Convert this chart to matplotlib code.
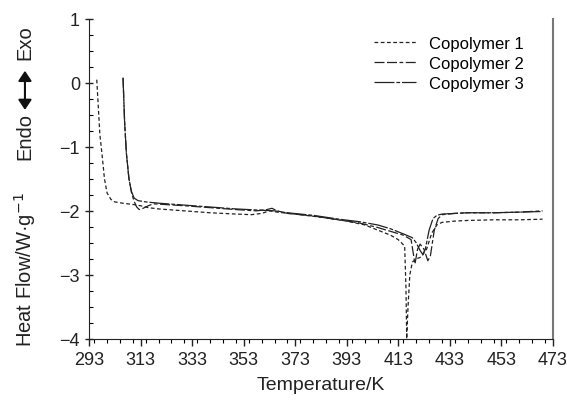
import matplotlib
matplotlib.use("Agg")
import matplotlib.pyplot as plt
from matplotlib.ticker import MultipleLocator

plt.rcParams['font.family'] = ['Liberation Sans', 'DejaVu Sans']

# 数据：温度(K) 和 热流(W/g)
T1 = [296.0, 296.5, 297.2, 298.0, 299.0, 300.0, 301.5, 303, 306, 310, 313, 316, 320, 330, 340,
      350, 356, 360, 363, 366, 373, 383, 393, 400, 405, 410, 413, 415.5, 416.0, 416.3, 416.8,
      417.5, 418.5, 420, 422, 424, 426, 428, 430, 435, 440, 450, 460, 469]
y1 = [0.05, -0.3, -0.8, -1.1, -1.5, -1.72, -1.82, -1.86, -1.88, -1.9, -1.92, -1.95, -1.97, -2.0,
      -2.03, -2.05, -2.06, -2.04, -2.0, -2.02, -2.05, -2.1, -2.16, -2.22, -2.3, -2.38, -2.45,
      -2.55, -3.2, -4.0, -3.5, -3.0, -2.8, -2.75, -2.72, -2.6, -2.35, -2.22, -2.18, -2.16, -2.15,
      -2.14, -2.14, -2.13]

T2 = [306.2, 306.8, 307.5, 308.5, 309.5, 310.5, 311.5, 312.5, 314, 316, 318, 322, 330, 340, 350,
      358, 362, 364, 366, 370, 380, 390, 398, 405, 410, 415, 418, 419.5, 420.5, 421.5, 423, 424.5,
      425.5, 427, 428.5, 430, 435, 440, 450, 460, 469]
y2 = [0.08, -0.6, -1.1, -1.5, -1.72, -1.85, -1.94, -1.98, -1.96, -1.92, -1.89, -1.9, -1.92, -1.95,
      -1.98, -2.0, -1.98, -1.96, -2.0, -2.04, -2.08, -2.14, -2.19, -2.26, -2.32, -2.38, -2.45,
      -2.83, -2.6, -2.52, -2.6, -2.78, -2.7, -2.3, -2.12, -2.06, -2.04, -2.03, -2.03, -2.02, -2.0]

T3 = [306.2, 306.8, 307.5, 308.5, 309.5, 310.5, 312, 315, 320, 330, 340, 350, 360, 365, 370, 380,
      390, 398, 405, 410, 415, 418.5, 420, 421.5, 422.5, 423.5, 425, 426.5, 428, 430, 435, 440,
      450, 460, 469]
y3 = [0.08, -0.6, -1.1, -1.5, -1.7, -1.8, -1.84, -1.86, -1.88, -1.91, -1.94, -1.97, -1.99, -2.0,
      -2.03, -2.07, -2.13, -2.17, -2.22, -2.28, -2.36, -2.42, -2.5, -2.62, -2.68, -2.6, -2.3,
      -2.12, -2.07, -2.05, -2.04, -2.03, -2.03, -2.02, -2.01]

xticks = [293, 313, 333, 353, 373, 393, 413, 433, 453, 473]

fig = plt.figure(figsize=(5.67, 4.06), dpi=100)
ax = fig.add_axes([0.157, 0.163, 0.818, 0.788])

ax.plot(T1, y1, color='#222222', lw=0.9, dashes=(3, 2), label='Copolymer 1')
ax.plot(T2, y2, color='#222222', lw=0.9, dashes=(8, 2, 8, 2, 3, 2), label='Copolymer 2')
ax.plot(T3, y3, color='#222222', lw=0.9, dashes=(16, 1.5, 3, 1.5), label='Copolymer 3')

ax.set_xlim(293, 473)
ax.set_ylim(-4, 1)
ax.set_xticks(xticks)
ax.xaxis.set_minor_locator(MultipleLocator(5))
ax.yaxis.set_major_locator(MultipleLocator(1))
ax.yaxis.set_minor_locator(MultipleLocator(0.25))
ax.set_yticklabels([str(int(v)).replace('-', '\u2212') for v in ax.get_yticks()])
ax.tick_params(labelsize=13, colors='#222222')
ax.tick_params(axis='x', which='major', direction='out', length=5, width=1)
ax.tick_params(axis='x', which='minor', direction='out', length=3, width=0.8)
ax.tick_params(axis='y', which='major', direction='inout', length=6, width=1)
ax.tick_params(axis='y', which='minor', direction='in', length=3, width=0.8)

ax.spines['top'].set_visible(False)
ax.spines['right'].set_color('#777777')
ax.spines['right'].set_linewidth(1.5)
ax.spines['left'].set_color('#222222')
ax.spines['bottom'].set_color('#222222')

ax.set_xlabel('Temperature/K', fontsize=14, color='#222222', labelpad=6)

# 纵轴标签 + Endo/Exo 箭头
fig.text(0.044, 0.335, 'Heat Flow/W\u00b7g$^{-1}$', rotation=90, fontsize=14.5,
         ha='center', va='center', color='#222222')
fig.text(0.044, 0.663, 'Endo', rotation=90, fontsize=14.5, ha='center', va='center', color='#222222')
fig.text(0.044, 0.894, 'Exo', rotation=90, fontsize=14.5, ha='center', va='center', color='#222222')
fig.add_artist(matplotlib.patches.FancyArrowPatch((0.044, 0.72), (0.044, 0.83),
                                                  transform=fig.transFigure,
                                                  arrowstyle='<|-|>,head_length=6,head_width=4',
                                                  lw=1.5, color='#111111'))

ax.legend(loc='upper left', bbox_to_anchor=(0.615, 0.948), frameon=False, fontsize=12,
          handlelength=2.5, handletextpad=0.8, labelspacing=0.32, borderpad=0, borderaxespad=0)

fig.savefig('out.png', dpi=100)
